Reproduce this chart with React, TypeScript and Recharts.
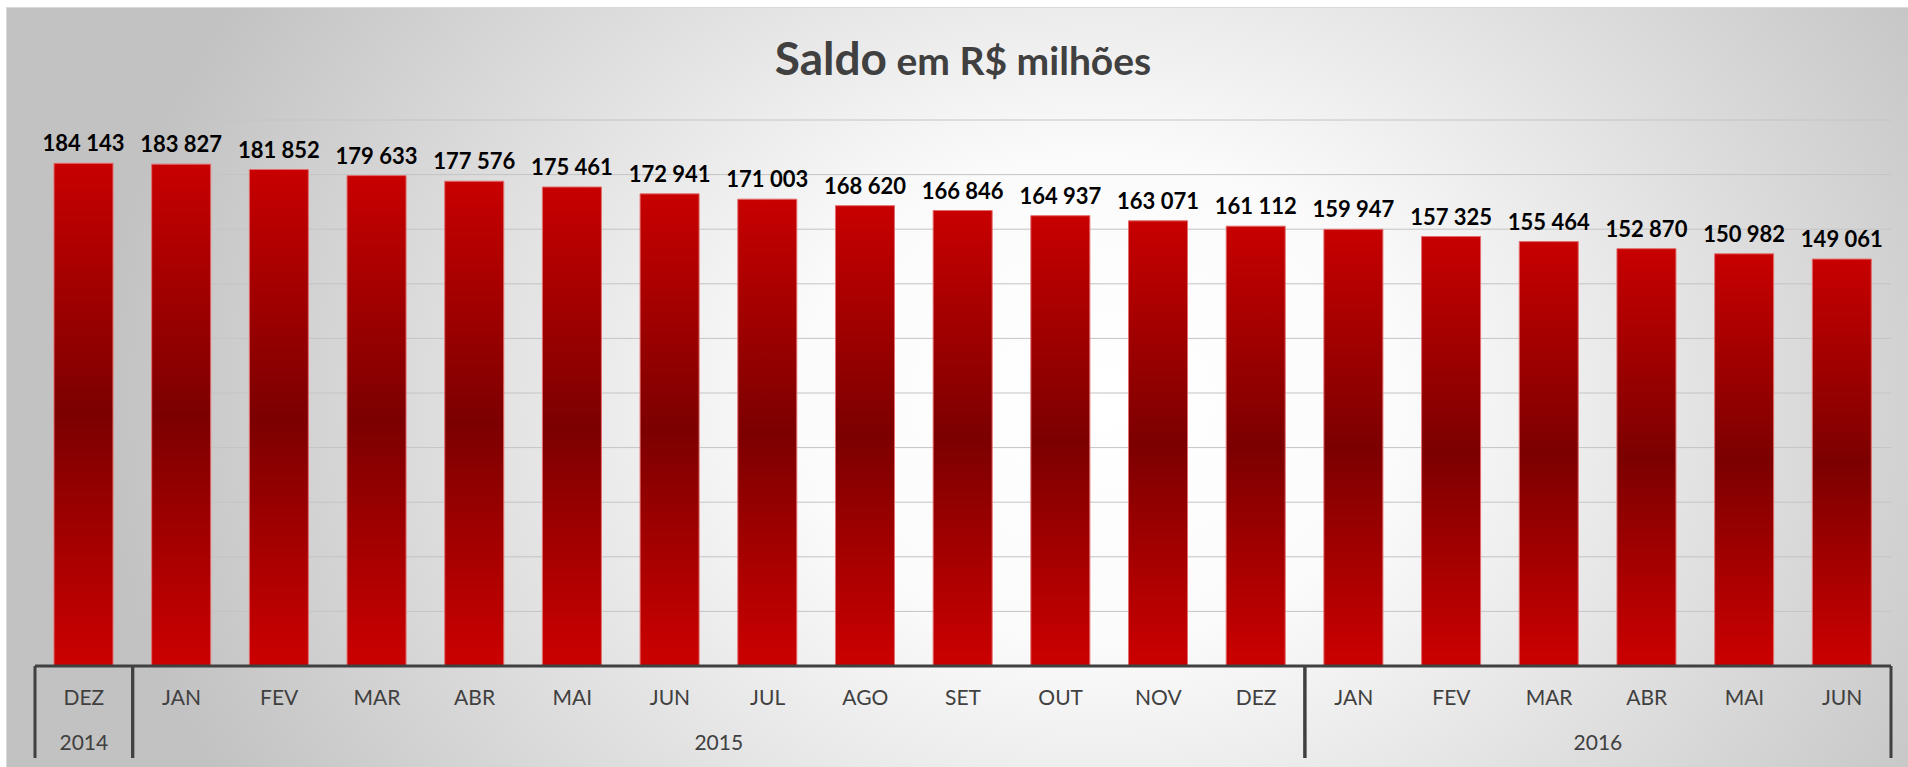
import React from 'react';
import {
  BarChart,
  Bar,
  XAxis,
  YAxis,
  CartesianGrid,
  LabelList,
  ReferenceArea,
} from 'recharts';

const keys = [
  '2014-12', '2015-01', '2015-02', '2015-03', '2015-04', '2015-05', '2015-06',
  '2015-07', '2015-08', '2015-09', '2015-10', '2015-11', '2015-12',
  '2016-01', '2016-02', '2016-03', '2016-04', '2016-05', '2016-06',
];
const months = [
  'DEZ', 'JAN', 'FEV', 'MAR', 'ABR', 'MAI', 'JUN', 'JUL', 'AGO', 'SET', 'OUT', 'NOV', 'DEZ',
  'JAN', 'FEV', 'MAR', 'ABR', 'MAI', 'JUN',
];
const years = [
  '2014',
  '2015', '2015', '2015', '2015', '2015', '2015', '2015', '2015', '2015', '2015', '2015', '2015',
  '2016', '2016', '2016', '2016', '2016', '2016',
];
const saldo = [
  184143, 183827, 181852, 179633, 177576, 175461, 172941, 171003, 168620, 166846,
  164937, 163071, 161112, 159947, 157325, 155464, 152870, 150982, 149061,
];
const yTicks = [0, 20000, 40000, 60000, 80000, 100000, 120000, 140000, 160000, 180000, 200000];

const data = keys.map((key, i) => ({ key, month: months[i], year: years[i], saldo: saldo[i] }));

const yearGroups = Array.from(new Set(years)).map((year) => {
  const idx = years.map((y, i) => (y === year ? i : -1)).filter((i) => i >= 0);
  return { year, first: keys[idx[0]], last: keys[idx[idx.length - 1]] };
});

const FONT = 'Lato, "Open Sans", sans-serif';
const AXIS_COLOR = '#404040';

const fmt = (v: number) => String(v).replace(/\B(?=(\d{3})+(?!\d))/g, ' ');

function MonthTick({ x, y, payload }: any) {
  const row = data.find((d) => d.key === payload.value);
  return (
    <text x={x} y={y + 39} textAnchor="middle" fill={AXIS_COLOR} fontSize={21} fontFamily={FONT}>
      {row ? row.month : ''}
    </text>
  );
}

function YearBracket({ x, y, width, height, label }: any) {
  if (x == null || width == null) return null;
  const base = y + height;
  return (
    <g>
      <line x1={x} x2={x} y1={base} y2={base + 92} stroke={AXIS_COLOR} strokeWidth={3} />
      <line x1={x + width} x2={x + width} y1={base} y2={base + 92} stroke={AXIS_COLOR} strokeWidth={3} />
      <text x={x + width / 2} y={base + 84} textAnchor="middle" fill={AXIS_COLOR} fontSize={21} fontFamily={FONT}>
        {label}
      </text>
    </g>
  );
}

export default function App() {
  return (
    <div style={{ position: 'absolute', left: 0, top: 0, width: 1908, height: 767 }}>
      <svg width={1908} height={767} style={{ position: 'absolute', left: 0, top: 0 }}>
        <defs>
          <radialGradient
            id="bgFill"
            gradientUnits="userSpaceOnUse"
            cx={1100}
            cy={400}
            r={1000}
            gradientTransform="translate(1100 400) scale(1 0.8) translate(-1100 -400)"
          >
            <stop offset="0" stopColor="#ffffff" />
            <stop offset="0.3" stopColor="#fbfbfb" />
            <stop offset="1" stopColor="#c2c2c2" />
          </radialGradient>
        </defs>
        <rect x={6.5} y={7.5} width={1902} height={760} fill="url(#bgFill)" stroke="#d9d9d9" />
        <text x={963} y={75} textAnchor="middle" fill={AXIS_COLOR} fontFamily={FONT} fontWeight="bold">
          <tspan fontSize={46}>Saldo</tspan>
          <tspan fontSize={39}> em R$ milhões</tspan>
        </text>
      </svg>
      <div style={{ position: 'absolute', left: 0, top: 0 }}>
        <BarChart
          width={1908}
          height={767}
          data={data}
          margin={{ top: 120, right: 17, bottom: 0, left: 35 }}
        >
          <defs>
            <linearGradient id="barFill" x1="0" y1="0" x2="0" y2="1">
              <stop offset="0" stopColor="#c80000" />
              <stop offset="0.5" stopColor="#7c0000" />
              <stop offset="1" stopColor="#cc0000" />
            </linearGradient>
          </defs>
          <CartesianGrid vertical={false} stroke="#c4c4c4" />
          <YAxis hide domain={[0, 200000]} ticks={yTicks} />
          <XAxis
            dataKey="key"
            height={101}
            interval={0}
            tickSize={0}
            tickMargin={0}
            tickLine={false}
            axisLine={{ stroke: AXIS_COLOR, strokeWidth: 3 }}
            tick={<MonthTick />}
          />
          {yearGroups.map((g) => (
            <ReferenceArea
              key={g.year}
              x1={g.first}
              x2={g.last}
              ifOverflow="visible"
              shape={(p: any) => <YearBracket {...p} label={g.year} />}
            />
          ))}
          <Bar
            dataKey="saldo"
            barSize={59}
            fill="url(#barFill)"
            stroke="#e46c6c"
            strokeWidth={1}
            isAnimationActive={false}
          >
            <LabelList
              dataKey="saldo"
              position="top"
              offset={12}
              formatter={(v: any) => fmt(Number(v))}
              fill="#000000"
              fontSize={22}
              fontWeight="bold"
              fontFamily={FONT}
            />
          </Bar>
        </BarChart>
      </div>
    </div>
  );
}
